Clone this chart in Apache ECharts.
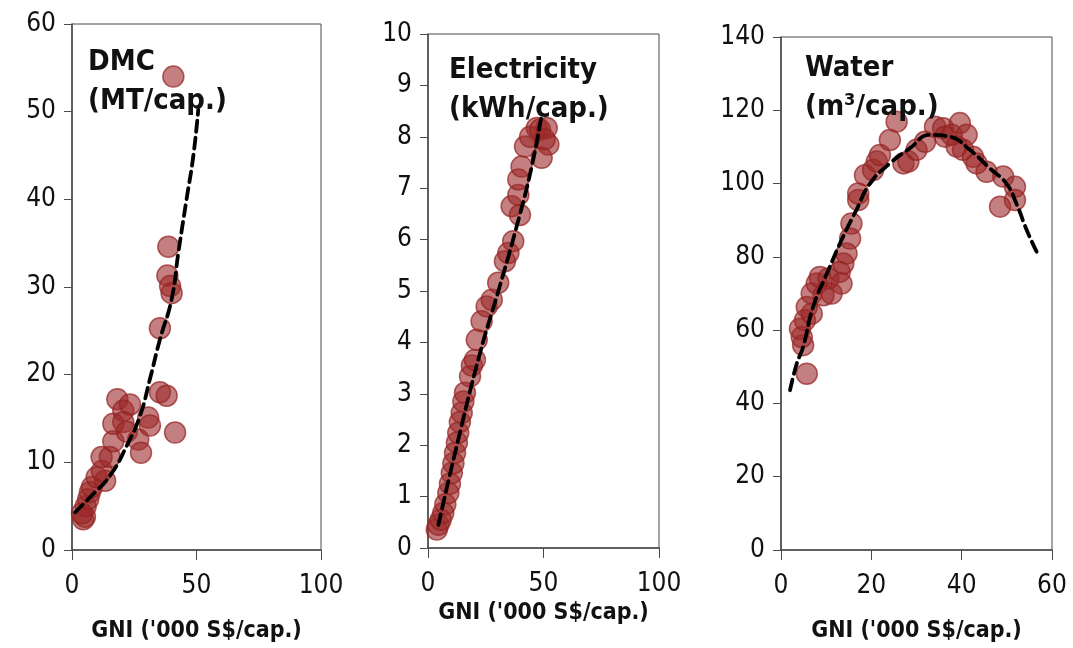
<!DOCTYPE html>
<html><head><meta charset="utf-8">
<script src="https://cdn.jsdelivr.net/npm/echarts@6/dist/echarts.min.js"></script>
<style>html,body{margin:0;padding:0;background:#fff}#c{width:1073px;height:648px}</style>
</head><body><div id="c"></div>
<script>
// ---- data ----
const titles = ['DMC\n(MT/cap.)', 'Electricity\n(kWh/cap.)', 'Water\n(m³/cap.)'];
const xName = "GNI ('000 S$/cap.)";

const dmcPoints = [[4.5,3.5],[5.2,3.8],[4.0,4.2],[5.5,5.0],[6.5,5.8],[7.2,6.6],[8.0,7.2],[9.9,8.3],[13.3,7.9],[12.0,9.0],[11.9,10.6],[15.2,10.6],[16.6,12.4],[16.6,14.4],[18.2,17.2],[20.6,15.9],[20.6,14.6],[23.3,16.6],[22.0,13.5],[26.6,12.6],[27.7,11.1],[30.6,15.1],[31.3,14.2],[35.3,18.0],[38.0,17.6],[41.4,13.4],[35.3,25.3],[38.3,31.3],[39.4,30.1],[40.0,29.3],[38.7,34.6],[40.7,54.0]];
const dmcTrend = [[1.2,4.3],[7.9,6.2],[15.3,8.5],[22.0,11.9],[27.3,15.3],[31.3,19.5],[35.3,24.0],[40.0,28.6],[42.7,33.9],[46.0,40.0],[48.7,44.9],[50.7,50.2]];

const elecPoints = [[3.8,0.36],[4.5,0.45],[5.5,0.55],[6.6,0.68],[7.5,0.85],[8.8,1.07],[9.5,1.25],[10.3,1.46],[11.0,1.65],[11.7,1.85],[12.5,2.05],[13.1,2.24],[13.8,2.45],[14.6,2.63],[15.3,2.85],[16.0,3.02],[18.2,3.34],[19.0,3.55],[20.3,3.66],[21.1,4.05],[23.2,4.41],[25.4,4.70],[27.6,4.83],[30.4,5.16],[33.3,5.58],[34.8,5.74],[36.9,5.97],[36.2,6.65],[39.8,6.48],[39.1,6.87],[39.1,7.17],[40.5,7.42],[42.0,7.81],[44.2,8.00],[47.1,8.17],[48.5,8.14],[51.4,8.17],[52.1,7.85],[49.2,7.59],[50.5,7.95]];
const elecTrend = [[4.5,0.45],[12.4,1.98],[22.5,3.79],[30.4,4.99],[38.4,6.26],[44.9,7.42],[49.2,8.43]];

const waterPoints = [[5.7,48.1],[4.9,55.9],[4.6,58.1],[4.2,60.4],[5.3,62.7],[6.8,64.5],[5.7,66.3],[6.8,70.0],[7.9,72.7],[8.6,74.5],[10.5,74.1],[11.2,70.0],[9.4,69.5],[13.0,75.9],[13.8,78.2],[13.4,72.7],[14.5,80.9],[15.3,85.0],[15.6,89.1],[17.1,95.5],[17.1,97.3],[18.6,102.3],[20.4,103.7],[21.2,106.0],[21.9,107.8],[24.1,111.9],[25.6,116.9],[27.1,105.5],[28.2,106.0],[30.0,109.2],[31.9,111.4],[34.1,115.5],[35.9,115.1],[36.3,112.8],[37.8,113.3],[39.6,116.5],[41.1,113.3],[38.9,110.1],[40.3,109.2],[42.5,107.3],[43.3,105.5],[45.5,103.2],[49.2,101.9],[51.8,99.1],[51.8,95.5],[48.5,93.7]];
const waterTrend = [[2.0,43.6],[3.5,50.9],[4.9,55.4],[7.1,66.3],[10.5,76.4],[13.4,84.6],[16.7,92.8],[19.7,100.0],[24.1,105.5],[28.5,109.6],[33.0,113.3],[37.4,112.8],[41.8,109.2],[46.2,104.2],[49.9,100.0],[52.1,94.6],[54.4,87.3],[56.6,81.4]];

const xMax = [100, 100, 60], xInt = [50, 50, 20];
const yMax = [60, 10, 140], yInt = [10, 1, 20];
// ---- layout ----
const grids = [
  {left:72, width:249, top:24, height:527},
  {left:428, width:231, top:34, height:514},
  {left:781, width:271, top:37, height:513}
];
const nameGaps = [70, 54, 70];
const titlePos = [[83,38],[444,46],[800,44]];
const pts = [dmcPoints, elecPoints, waterPoints];
const trends = [dmcTrend, elecTrend, waterTrend];

const axisColor = '#4a4a4a';
const labelFont = {fontFamily:'DejaVu Sans Condensed', fontSize:26, color:'#111'};

const option = {
  animation:false,
  backgroundColor:'#fff',
  title: titles.map((t,i)=>({text:t, left:titlePos[i][0], top:titlePos[i][1],
    textStyle:{fontFamily:'DejaVu Sans Condensed', fontWeight:'bold', fontSize:29, color:'#111', lineHeight:39}})),
  grid: grids.map(g=>Object.assign({show:true, borderColor:axisColor, borderWidth:1, backgroundColor:'transparent'}, g)),
  xAxis: grids.map((g,i)=>({type:'value', gridIndex:i, min:0, max:xMax[i], interval:xInt[i],
    name:xName, nameLocation:'middle', nameGap:nameGaps[i],
    nameTextStyle:{fontFamily:'DejaVu Sans Condensed', fontWeight:'bold', fontSize:23, color:'#111'},
    axisLine:{show:true, onZero:false, lineStyle:{color:axisColor, width:1.5}},
    axisTick:{show:true, inside:false, length:10, lineStyle:{color:axisColor, width:1}},
    axisLabel:Object.assign({margin:23}, labelFont),
    splitLine:{show:false}})),
  yAxis: grids.map((g,i)=>({type:'value', gridIndex:i, min:0, max:yMax[i], interval:yInt[i],
    axisLine:{show:true, onZero:false, lineStyle:{color:axisColor, width:1.5}},
    axisTick:{show:true, inside:false, length:8, lineStyle:{color:axisColor, width:1}},
    axisLabel:Object.assign({margin:16}, labelFont),
    splitLine:{show:false}})),
  series: []
};
for (let i=0;i<3;i++){
  option.series.push({type:'scatter', xAxisIndex:i, yAxisIndex:i, data:pts[i], symbol:'circle', symbolSize:21,
    itemStyle:{color:'rgba(155,40,40,0.74)', borderColor:'rgba(148,34,34,0.9)', borderWidth:1.5}, z:2});
  option.series.push({type:'line', xAxisIndex:i, yAxisIndex:i, data:trends[i], smooth:true, symbol:'none',
    lineStyle:{color:'#000', width:3.8, type:[11,6], cap:'round'}, z:3});
}
echarts.init(document.getElementById('c'), null, {renderer:'canvas'}).setOption(option);
</script></body></html>
